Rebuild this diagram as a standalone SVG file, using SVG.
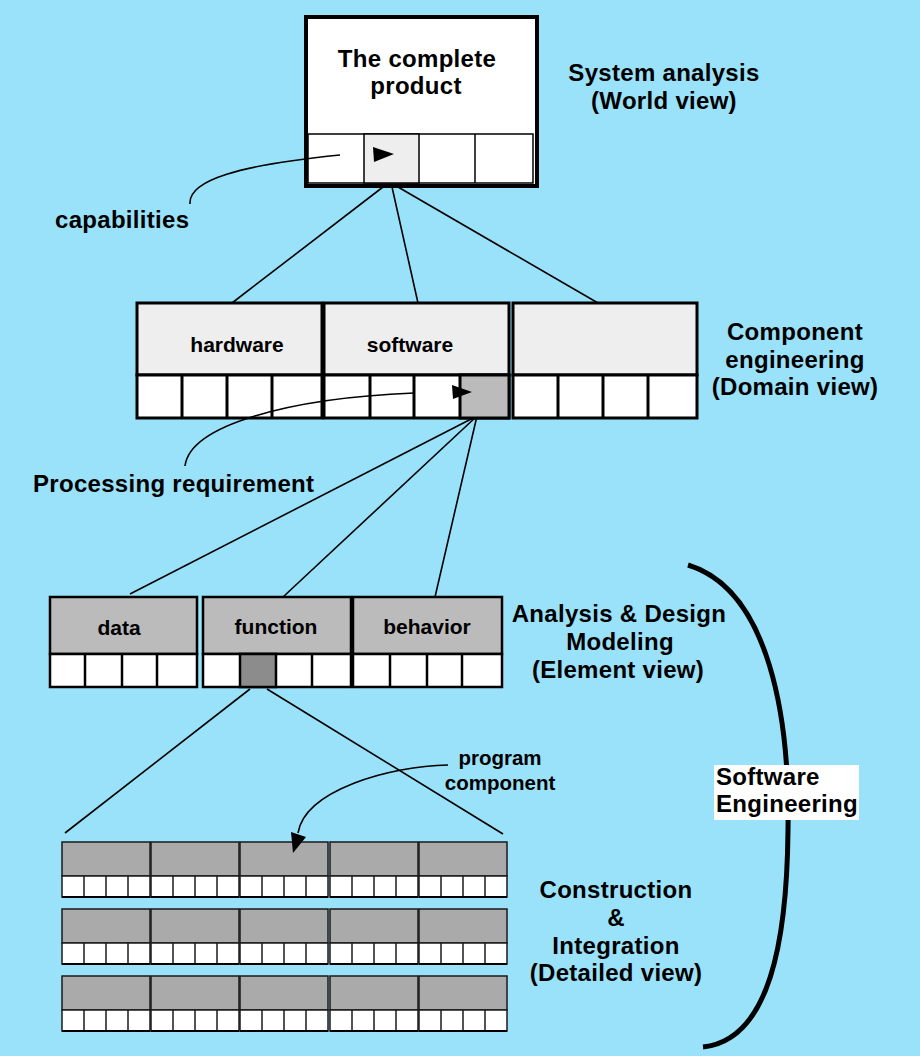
<svg xmlns="http://www.w3.org/2000/svg" xmlns:xlink="http://www.w3.org/1999/xlink" width="920" height="1056" viewBox="0 0 920 1056">
<style>
.lbl{font-family:"Liberation Sans",Arial,sans-serif;font-weight:bold;font-size:24px;fill:#000;letter-spacing:0.3px}
.nm{font-family:"Liberation Sans",Arial,sans-serif;font-weight:bold;font-size:21px;fill:#000}
.sm{font-family:"Liberation Sans",Arial,sans-serif;font-weight:bold;font-size:20.5px;fill:#000}
.con{stroke:#000;stroke-width:1.6;fill:none}
.thick{stroke:#000;stroke-width:3;}
.mid{stroke:#000;stroke-width:2.5;}
.thin{stroke:#000;stroke-width:1.5;}
</style>
<defs>
<g id="pc">
<rect x="0" y="0" width="88" height="34" fill="#aaaaaa" stroke="#1a1a1a" stroke-width="1.5"/>
<rect x="0" y="34" width="88" height="21" fill="#ffffff" stroke="#1a1a1a" stroke-width="1.5"/>
<line x1="22" y1="34" x2="22" y2="55" stroke="#1a1a1a" stroke-width="1.5"/>
<line x1="44" y1="34" x2="44" y2="55" stroke="#1a1a1a" stroke-width="1.5"/>
<line x1="66" y1="34" x2="66" y2="55" stroke="#1a1a1a" stroke-width="1.5"/>
<line x1="0" y1="55" x2="88" y2="55" stroke="#000" stroke-width="2"/>
</g>
</defs>
<rect x="0" y="0" width="920" height="1056" fill="#9ae2fa"/>

<g id="connectors">
<line class="con" x1="383" y1="187" x2="232" y2="303"/>
<line class="con" x1="392" y1="187" x2="418" y2="303"/>
<line class="con" x1="398" y1="187" x2="598" y2="303"/>
<line class="con" x1="477" y1="416" x2="130" y2="594"/>
<line class="con" x1="477" y1="416" x2="283" y2="597"/>
<line class="con" x1="477" y1="416" x2="435" y2="597"/>
<line class="con" x1="250" y1="689" x2="65" y2="833"/>
<line class="con" x1="267" y1="689" x2="503" y2="834"/>
</g>

<g id="top-product">
<rect x="306" y="17" width="231" height="169" fill="#ffffff" stroke="#000" stroke-width="4"/>
<rect x="308" y="134" width="225" height="49" fill="#ffffff" stroke="#000" stroke-width="1.5"/>
<rect x="364" y="134" width="55" height="49" fill="#eeeeee" stroke="#000" stroke-width="1.5"/>
<line class="thin" x1="475" y1="134" x2="475" y2="183"/>
<text class="lbl" x="417" y="67" text-anchor="middle">The complete</text>
<text class="lbl" x="416" y="94" text-anchor="middle">product</text>
</g>

<g id="hardware">
<rect x="137" y="303" width="185" height="72" fill="#eeeeee" class="thick"/>
<rect x="137" y="375" width="185" height="43" fill="#ffffff" class="thick"/>
<line class="thick" x1="182" y1="375" x2="182" y2="418"/>
<line class="thick" x1="227" y1="375" x2="227" y2="418"/>
<line class="thick" x1="272" y1="375" x2="272" y2="418"/>
<text class="nm" x="237" y="352" text-anchor="middle">hardware</text>
</g>

<g id="software">
<rect x="324" y="303" width="185" height="72" fill="#eeeeee" class="thick"/>
<rect x="324" y="375" width="185" height="43" fill="#ffffff" class="thick"/>
<rect x="460" y="375" width="49" height="43" fill="#bbbbbb" class="thick"/>
<line class="thick" x1="370" y1="375" x2="370" y2="418"/>
<line class="thick" x1="414" y1="375" x2="414" y2="418"/>
<text class="nm" x="410" y="352" text-anchor="middle">software</text>
</g>

<g id="component-3">
<rect x="513" y="303" width="184" height="72" fill="#eeeeee" class="thick"/>
<rect x="513" y="375" width="184" height="43" fill="#ffffff" class="thick"/>
<line class="thick" x1="558" y1="375" x2="558" y2="418"/>
<line class="thick" x1="603" y1="375" x2="603" y2="418"/>
<line class="thick" x1="648" y1="375" x2="648" y2="418"/>
</g>

<g id="data">
<rect x="50" y="597" width="147" height="57" fill="#bbbbbb" class="mid"/>
<rect x="50" y="654" width="147" height="33" fill="#ffffff" class="mid"/>
<line class="mid" x1="85" y1="654" x2="85" y2="687"/>
<line class="mid" x1="122" y1="654" x2="122" y2="687"/>
<line class="mid" x1="157" y1="654" x2="157" y2="687"/>
<text class="nm" x="119" y="635" text-anchor="middle">data</text>
</g>

<g id="function">
<rect x="203" y="597" width="148" height="57" fill="#bbbbbb" class="mid"/>
<rect x="203" y="654" width="148" height="33" fill="#ffffff" class="mid"/>
<rect x="240" y="654" width="36" height="33" fill="#8c8c8c" class="mid"/>
<line class="mid" x1="312" y1="654" x2="312" y2="687"/>
<text class="nm" x="276" y="634" text-anchor="middle">function</text>
</g>

<g id="behavior">
<rect x="353" y="597" width="149" height="57" fill="#bbbbbb" class="mid"/>
<rect x="353" y="654" width="149" height="33" fill="#ffffff" class="mid"/>
<line class="mid" x1="390" y1="654" x2="390" y2="687"/>
<line class="mid" x1="427" y1="654" x2="427" y2="687"/>
<line class="mid" x1="462" y1="654" x2="462" y2="687"/>
<text class="nm" x="427" y="634" text-anchor="middle">behavior</text>
</g>

<g id="program-components">
<use id="pc-1-1" xlink:href="#pc" x="62" y="842"/>
<use id="pc-1-2" xlink:href="#pc" x="151" y="842"/>
<use id="pc-1-3" xlink:href="#pc" x="240" y="842"/>
<use id="pc-1-4" xlink:href="#pc" x="330" y="842"/>
<use id="pc-1-5" xlink:href="#pc" x="419" y="842"/>
<use id="pc-2-1" xlink:href="#pc" x="62" y="909"/>
<use id="pc-2-2" xlink:href="#pc" x="151" y="909"/>
<use id="pc-2-3" xlink:href="#pc" x="240" y="909"/>
<use id="pc-2-4" xlink:href="#pc" x="330" y="909"/>
<use id="pc-2-5" xlink:href="#pc" x="419" y="909"/>
<use id="pc-3-1" xlink:href="#pc" x="62" y="976"/>
<use id="pc-3-2" xlink:href="#pc" x="151" y="976"/>
<use id="pc-3-3" xlink:href="#pc" x="240" y="976"/>
<use id="pc-3-4" xlink:href="#pc" x="330" y="976"/>
<use id="pc-3-5" xlink:href="#pc" x="419" y="976"/>
</g>

<g id="annotations">
<path class="con" d="M190,204 C188,180 240,165 340,155"/>
<polygon points="373,147 394,154 374,162" fill="#000"/>
<path class="con" d="M185,466 C190,425 290,398 414,393"/>
<polygon points="452,385 472,392 453,399" fill="#000"/>
<path class="con" d="M448,765 C390,766 305,790 298,833"/>
<polygon points="291,832 306,837 293,853" fill="#000"/>
<text class="lbl" x="55" y="228">capabilities</text>
<text class="lbl" x="33" y="492">Processing requirement</text>
<text class="sm" x="500" y="765" text-anchor="middle">program</text>
<text class="sm" x="500" y="790" text-anchor="middle">component</text>
</g>

<g id="level-labels">
<text class="lbl" x="664" y="81" text-anchor="middle">System analysis</text>
<text class="lbl" x="664" y="109" text-anchor="middle">(World view)</text>
<text class="lbl" x="795" y="340" text-anchor="middle">Component</text>
<text class="lbl" x="795" y="368" text-anchor="middle">engineering</text>
<text class="lbl" x="795" y="395" text-anchor="middle">(Domain view)</text>
<text class="lbl" x="619" y="622" text-anchor="middle">Analysis &amp; Design</text>
<text class="lbl" x="620" y="650" text-anchor="middle">Modeling</text>
<text class="lbl" x="618" y="678" text-anchor="middle">(Element view)</text>
<text class="lbl" x="616" y="898" text-anchor="middle">Construction</text>
<text class="lbl" x="616" y="926" text-anchor="middle">&amp;</text>
<text class="lbl" x="616" y="954" text-anchor="middle">Integration</text>
<text class="lbl" x="616" y="981" text-anchor="middle">(Detailed view)</text>
</g>

<g id="software-engineering">
<path d="M688,565 C770,590 790,720 788,830 C787,940 770,1040 703,1047" fill="none" stroke="#000" stroke-width="5"/>
<rect x="714" y="765" width="145" height="55" fill="#ffffff"/>
<text class="lbl" x="716" y="785">Software</text>
<text class="lbl" x="716" y="812">Engineering</text>
</g>
</svg>
